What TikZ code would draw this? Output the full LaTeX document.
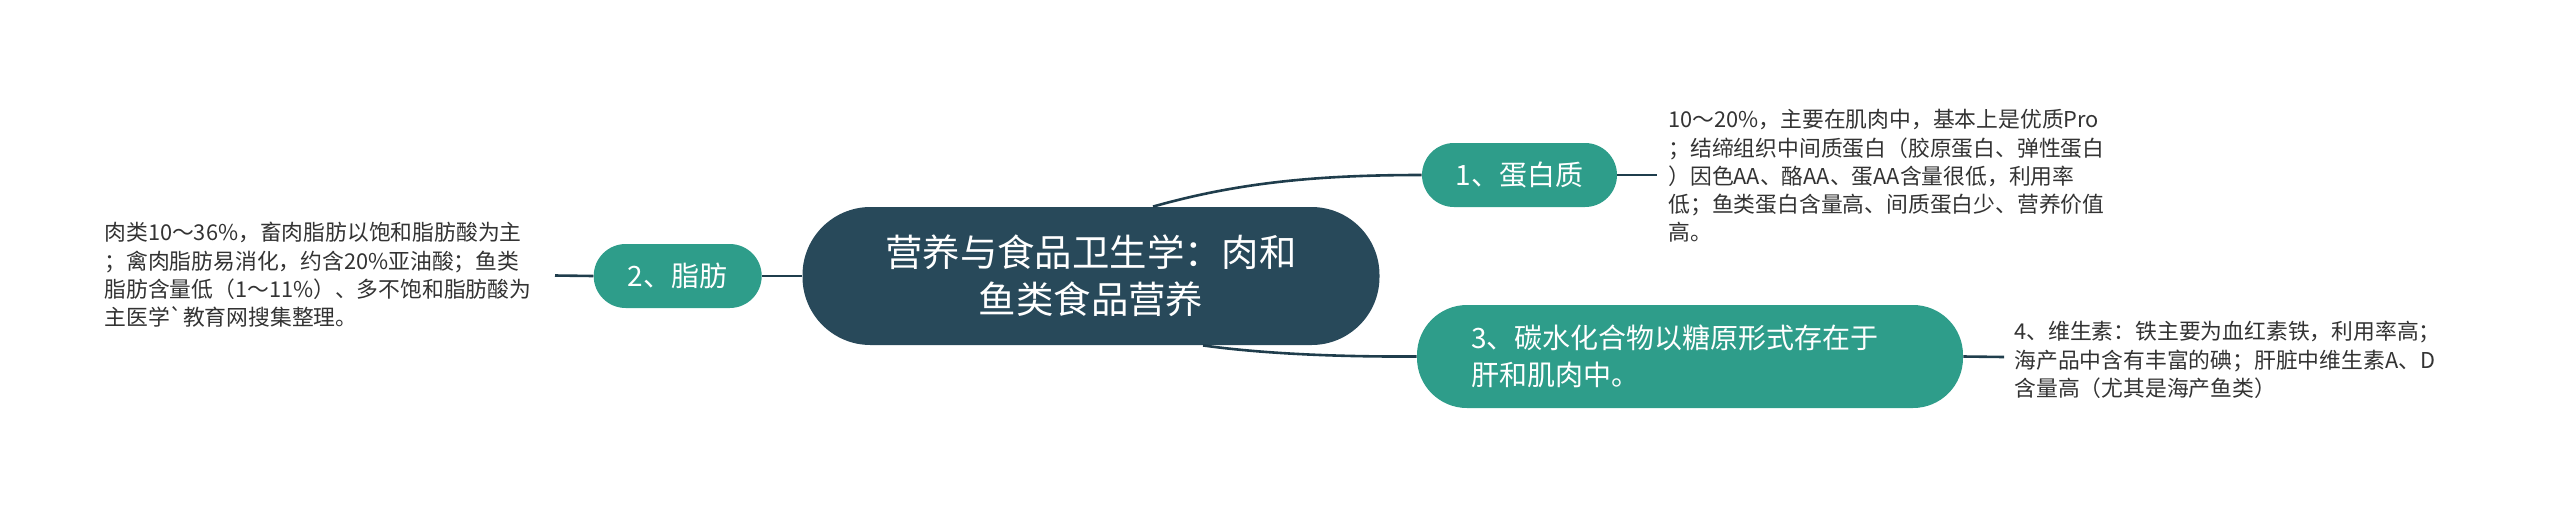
\documentclass[tikz,border=0pt]{standalone}
\usepackage{fontspec}
\newfontfamily\cjk{Noto Sans CJK SC}
\usepackage{xcolor}
\usetikzlibrary{positioning}
\definecolor{rootbg}{HTML}{28495A}
\definecolor{branchbg}{HTML}{2E9D8A}
\definecolor{linkcol}{HTML}{1F3D4C}
\definecolor{leafcol}{HTML}{333333}

\tikzset{
  rootnode/.style={fill=rootbg, text=white, rounded corners=34pt,
    minimum width=288.5pt, minimum height=69pt, align=center,
    font={\cjk\fontsize{18.7pt}{23.7pt}\selectfont}},
  branchnode/.style={fill=branchbg, text=white, rounded corners=16pt,
    minimum height=32pt, align=center,
    font={\cjk\fontsize{14pt}{18.5pt}\selectfont}},
  leaftext/.style={text=leafcol, inner sep=0pt, align=left, anchor=west,
    font={\cjk\fontsize{10.9pt}{14.15pt}\selectfont}},
  link/.style={draw=linkcol, line width=1.3pt},
}

\begin{document}
\begin{tikzpicture}[x=0.5pt, y=-0.5pt]
  \useasboundingbox (0,0) rectangle (2560,505);

  % centre and branches
  \node[rootnode] (root) at (1091,276) {营养与食品卫生学：肉和\\鱼类食品营养};
  \node[branchnode, minimum width=84pt, left=20pt of root] (fat) {2、脂肪};
  \node[branchnode, minimum width=97.5pt] (protein) at (1519.5,175) {1、蛋白质};
  \node[branchnode, rounded corners=25pt, minimum height=51.5pt,
    text width=219pt, inner xsep=27pt, align=left] (carb) at (1690,356.5)
    {3、碳水化合物以糖原形式存在于\\肝和肌肉中。};

  % leaf texts
  \node[leaftext] (proteintext) at (1668,176)
    {10～20\%，主要在肌肉中，基本上是优质Pro\\
     ；结缔组织中间质蛋白（胶原蛋白、弹性蛋白\\
     ）因色AA、酪AA、蛋AA含量很低，利用率\\
     低；鱼类蛋白含量高、间质蛋白少、营养价值\\
     高。};
  \node[leaftext] (fattext) at (104,275)
    {肉类10～36\%，畜肉脂肪以饱和脂肪酸为主\\
     ；禽肉脂肪易消化，约含20\%亚油酸；鱼类\\
     脂肪含量低（1～11\%）、多不饱和脂肪酸为\\
     主医学{\char"60}教育网搜集整理。};
  \node[leaftext] (vitatext) at (2014,360)
    {4、维生素：铁主要为血红素铁，利用率高；\\
     海产品中含有丰富的碘；肝脏中维生素A、D\\
     含量高（尤其是海产鱼类）};

  \coordinate (fatend) at (555,275.5);
  \coordinate (proteinend) at (1657,175);
  \coordinate (carbend) at (2004,357);

  % connectors
  \draw[link] (root.west) -- (fat.east);
  \draw[link] (fat.west) -- (fatend);
  \draw[link] ([xshift=31pt]root.north) .. controls (1240,182) and (1320,175) .. (protein.west);
  \draw[link] (protein.east) -- (proteinend);
  \draw[link] ([xshift=56pt]root.south) .. controls (1250,352) and (1320,357) .. (carb.west);
  \draw[link] (carb.east) -- (carbend);
\end{tikzpicture}
\end{document}
